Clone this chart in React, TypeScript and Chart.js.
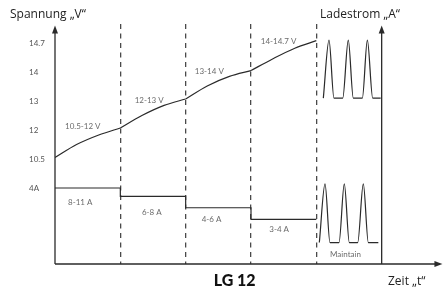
import React, { useEffect, useRef } from "react";
import { Chart, registerables } from "chart.js";

Chart.register(...registerables);

// x = time in phase units (phase boundaries 1..4, current axis at 5)
// y = diagram level (0 = "4A" tick, 1..5 = voltage ticks)
const yTickLevels = [0, 1, 2, 3, 4, 5];
const yTickLabels = ["4A", "10.5", "12", "13", "14", "14.7"];
const phaseBoundaries = [1, 2, 3, 4];

const voltagePhase1 = [[0, 1.05], [0.33, 1.5], [0.67, 1.83], [1, 2.07]];
const voltagePhase2 = [[1, 2.07], [1.33, 2.5], [1.67, 2.85], [2, 3.07]];
const voltagePhase3 = [[2, 3.07], [2.33, 3.52], [2.67, 3.85], [3, 4.05]];
const voltagePhase4 = [[3, 4.05], [3.33, 4.45], [3.67, 4.82], [4, 5.08]];

const currentStepX = [0, 1, 2, 3, 4];
const currentStepLevel = [0, -0.29, -0.68, -1.08, -1.08];

const upperPulseX = [4.107, 4.194, 4.27, 4.404, 4.489, 4.566, 4.704, 4.781, 4.863, 4.985];
const upperPulseLevel = [3.1, 5.1, 3.1, 3.1, 5.1, 3.1, 3.1, 5.1, 3.1, 3.1];
const lowerPulseX = [4.046, 4.133, 4.209, 4.347, 4.428, 4.505, 4.633, 4.719, 4.796, 4.949];
const lowerPulseLevel = [-1.88, 0.14, -1.88, -1.88, 0.14, -1.88, -1.88, 0.14, -1.88, -1.88];

const phaseLabels = ["10.5-12 V", "12-13 V", "13-14 V", "14-14.7 V", "8-11 A", "6-8 A", "4-6 A", "3-4 A", "Maintain"];
const phaseLabelX = [0.153, 1.22, 2.14, 3.15, 0.2, 1.33, 2.245, 3.28, 4.21];
const phaseLabelLevel = [2.14, 3.03, 4.03, 5.07, -0.48, -0.85, -1.1, -1.42, -2.28];

const Y_MIN = -2.62;
const Y_MAX = 5.655;
const X_MIN = 0;
const X_MAX = 6;
const X_ARROW_END = 5.93;
const Y_ARROW_END = 5.6;
const CURRENT_AXIS_X = 5;

const toPts = (arr: number[][]) => arr.map(([x, y]) => ({ x, y }));
const zipPts = (xs: number[], ys: number[]) => xs.map((x, i) => ({ x, y: ys[i] }));

const INK = "#2a2a2a";

const decorPlugin = {
  id: "decor",
  afterDraw(chart: any) {
    const { ctx, scales } = chart;
    const xs = scales.x;
    const ys = scales.y;
    const px = (v: number) => xs.getPixelForValue(v);
    const py = (v: number) => ys.getPixelForValue(v);
    ctx.save();
    ctx.strokeStyle = INK;
    ctx.fillStyle = INK;
    ctx.lineWidth = 1.3;

    const arrowUp = (x: number, yBottom: number, yTop: number) => {
      ctx.beginPath();
      ctx.moveTo(x, yBottom);
      ctx.lineTo(x, yTop + 5);
      ctx.stroke();
      ctx.beginPath();
      ctx.moveTo(x, yTop);
      ctx.lineTo(x - 3, yTop + 8);
      ctx.lineTo(x + 3, yTop + 8);
      ctx.closePath();
      ctx.fill();
    };
    const x0 = px(X_MIN);
    const yb = py(Y_MIN);
    arrowUp(x0, yb, py(Y_ARROW_END));
    arrowUp(px(CURRENT_AXIS_X), yb, py(Y_ARROW_END));
    const xe = px(X_ARROW_END);
    ctx.beginPath();
    ctx.moveTo(x0, yb);
    ctx.lineTo(xe - 5, yb);
    ctx.stroke();
    ctx.beginPath();
    ctx.moveTo(xe, yb);
    ctx.lineTo(xe - 8, yb - 3);
    ctx.lineTo(xe - 8, yb + 3);
    ctx.closePath();
    ctx.fill();

    ctx.fillStyle = "#6b6b6b";
    ctx.font = "8px Lato";
    ctx.textAlign = "left";
    ctx.textBaseline = "middle";
    phaseLabels.forEach((t, i) => {
      ctx.fillText(t, px(phaseLabelX[i]), py(phaseLabelLevel[i]));
    });

    ctx.fillStyle = "#222";
    ctx.font = "12px 'Open Sans'";
    ctx.fillText("Spannung „V“", 10, 15);
    ctx.fillText("Ladestrom „A“", 320, 15);
    ctx.fillText("Zeit „t“", 388, 282);
    ctx.font = "900 16px Lato";
    ctx.fillStyle = "#111";
    ctx.textAlign = "center";
    ctx.fillText("LG 12", px(2.75), 281);
    ctx.restore();
  },
};

export default function App() {
  const ref = useRef<HTMLCanvasElement>(null);
  useEffect(() => {
    if (!ref.current) return;
    const lineBase = {
      borderColor: INK,
      borderWidth: 1.2,
      pointRadius: 0,
      fill: false,
    };
    const chart = new Chart(ref.current, {
      type: "line",
      data: {
        datasets: [
          { ...lineBase, data: toPts(voltagePhase1), cubicInterpolationMode: "monotone" },
          { ...lineBase, data: toPts(voltagePhase2), cubicInterpolationMode: "monotone" },
          { ...lineBase, data: toPts(voltagePhase3), cubicInterpolationMode: "monotone" },
          { ...lineBase, data: toPts(voltagePhase4), cubicInterpolationMode: "monotone" },
          { ...lineBase, data: zipPts(currentStepX, currentStepLevel), stepped: true },
          { ...lineBase, data: zipPts(upperPulseX, upperPulseLevel), cubicInterpolationMode: "monotone" },
          { ...lineBase, data: zipPts(lowerPulseX, lowerPulseLevel), cubicInterpolationMode: "monotone" },
        ] as any,
      },
      options: {
        animation: false,
        responsive: false,
        devicePixelRatio: 1,
        layout: { padding: { left: 29, top: 24, bottom: 27, right: 0 } },
        plugins: { legend: { display: false }, tooltip: { enabled: false }, title: { display: false } },
        scales: {
          x: {
            type: "linear",
            min: X_MIN,
            max: X_MAX,
            afterBuildTicks: (s: any) => {
              s.ticks = phaseBoundaries.map((v) => ({ value: v }));
            },
            afterFit: (s: any) => {
              s.height = 0;
            },
            ticks: { display: false },
            grid: { color: "#4a4a4a", lineWidth: 1.3, drawTicks: false },
            border: { display: false, dash: [5, 4.5] },
          },
          y: {
            type: "linear",
            min: Y_MIN,
            max: Y_MAX,
            afterBuildTicks: (s: any) => {
              s.ticks = yTickLevels.map((v) => ({ value: v }));
            },
            afterFit: (s: any) => {
              s.width = 26;
            },
            ticks: {
              crossAlign: "far",
              color: "#555",
              font: { family: "Lato", size: 8 },
              callback: (v: any) => {
                const i = yTickLevels.indexOf(Number(v));
                return i >= 0 ? yTickLabels[i] : "";
              },
            },
            grid: { display: false },
            border: { display: false },
          },
        },
      } as any,
      plugins: [decorPlugin],
    });
    return () => chart.destroy();
  }, []);
  return (
    <div style={{ position: "fixed", left: 0, top: 0, width: 447, height: 291, background: "#fff" }}>
      <canvas ref={ref} width={447} height={291} />
    </div>
  );
}
